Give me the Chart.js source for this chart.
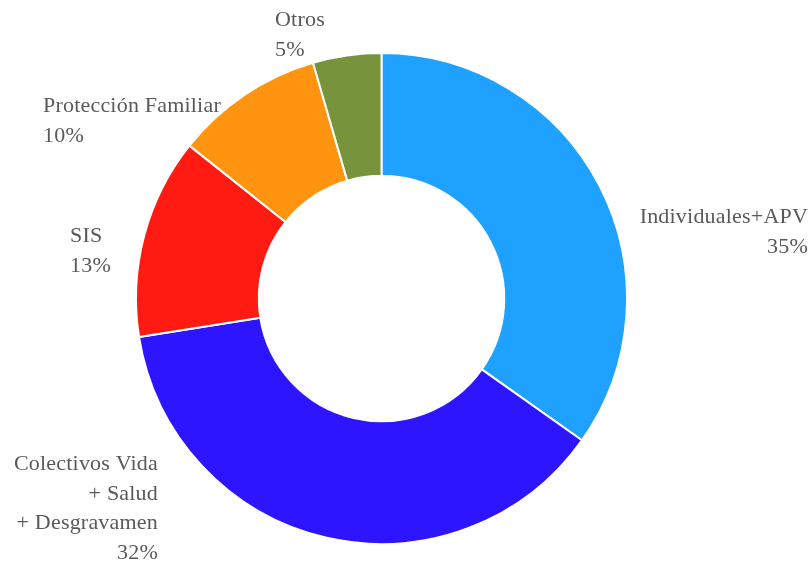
<!DOCTYPE html>
<html>
<head>
<meta charset="utf-8">
<script src="https://cdn.jsdelivr.net/npm/chart.js@4/dist/chart.umd.min.js"></script>
<style>
  html, body { margin: 0; padding: 0; background: #ffffff; }
  #wrap { width: 809px; height: 562px; }
</style>
</head>
<body>
<div id="wrap"><canvas id="donutChart" width="809" height="562"></canvas></div>
<script>
// Datos del gráfico
const categorias = [
    ['Individuales+APV'],
    ['Colectivos Vida', '+ Salud', '+ Desgravamen'],
    ['SIS'],
    ['Protección Familiar'],
    ['Otros']
];
const valores = [34.8, 37.7, 13.2, 9.8, 4.5];
const etiquetasPct = ['35%', '32%', '13%', '10%', '5%'];
const colores = ['#1ea1ff', '#2e15ff', '#ff1a12', '#ff9410', '#77933c'];

// Posición de cada etiqueta (x, línea base de la primera fila, alineación)
const posEtiquetas = [
    { x: 808, y: 223, align: 'right' },
    { x: 158, y: 470, align: 'right' },
    { x: 70, y: 242, align: 'left' },
    { x: 43, y: 112, align: 'left' },
    { x: 275, y: 26, align: 'left' }
];

const etiquetasPlugin = {
    id: 'etiquetas',
    afterDraw(chart) {
        const ctx = chart.ctx;
        ctx.save();
        ctx.font = '22px "Liberation Serif", "Times New Roman", serif';
        ctx.letterSpacing = '0.2px';
        ctx.fillStyle = '#595959';
        ctx.textBaseline = 'alphabetic';
        categorias.forEach((lineas, i) => {
            const p = posEtiquetas[i];
            ctx.textAlign = p.align;
            const filas = lineas.concat([etiquetasPct[i]]);
            filas.forEach((txt, j) => {
                ctx.fillText(txt, p.x, p.y + j * 29.5);
            });
        });
        ctx.restore();
    }
};

const donutContext = document.getElementById('donutChart').getContext('2d');
const donutChart = new Chart(donutContext, {
    type: 'doughnut',
    data: {
        labels: categorias.map(c => c.join(' ')),
        datasets: [{
            data: valores,
            backgroundColor: colores,
            borderColor: '#ffffff',
            borderWidth: 2
        }]
    },
    options: {
        responsive: false,
        animation: false,
        cutout: '50%',
        layout: {
            padding: { top: 52, bottom: 17, left: 135, right: 181 }
        },
        plugins: {
            legend: { display: false },
            tooltip: { enabled: false }
        }
    },
    plugins: [etiquetasPlugin]
});
</script>
</body>
</html>
